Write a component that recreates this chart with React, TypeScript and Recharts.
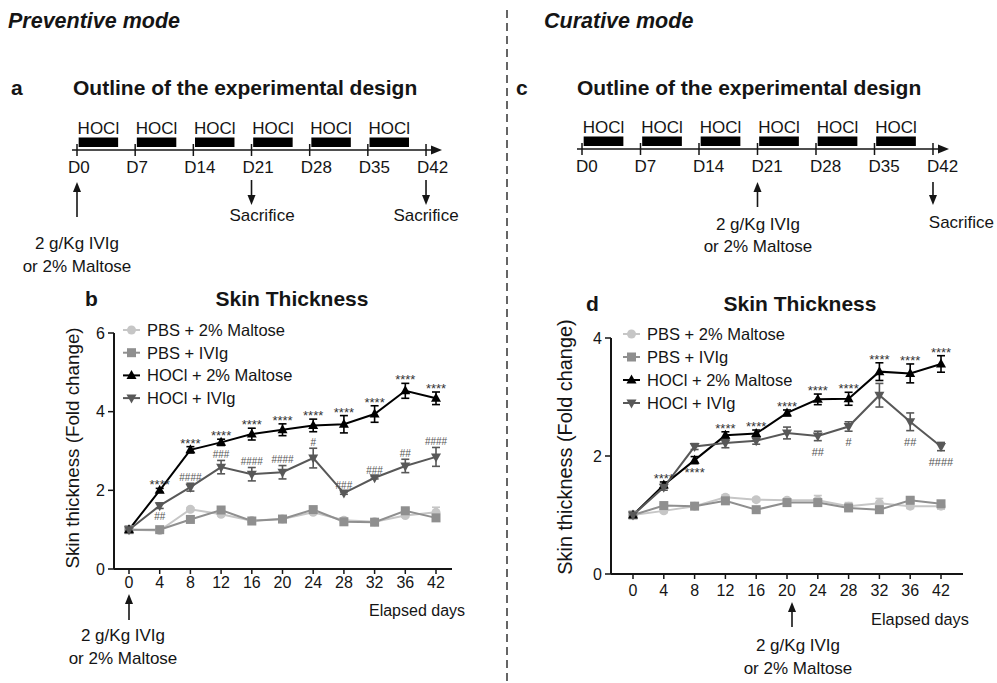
import React from 'react';
import { LineChart, Line, XAxis, YAxis, ErrorBar, LabelList } from 'recharts';

const FONT = '"Liberation Sans", Arial, Helvetica, sans-serif';
const INK = '#151515';

const days = [0, 4, 8, 12, 16, 20, 24, 28, 32, 36, 42];
const seriesNames = ['PBS + 2% Maltose', 'PBS + IVIg', 'HOCl + 2% Maltose', 'HOCl + IVIg'];
const seriesKeys = ['pbsM', 'pbsI', 'hoclM', 'hoclI'];
const seriesColors = ['#c6c6c6', '#8f8f8f', '#000000', '#585858'];
const seriesShapes = ['circle', 'square', 'up', 'down'];

// b - preventive mode
const prevPbsMaltose = [1.0, 0.98, 1.52, 1.39, 1.23, 1.27, 1.44, 1.24, 1.2, 1.36, 1.44];
const prevPbsMaltoseErr = [0.02, 0.03, 0.04, 0.04, 0.03, 0.03, 0.04, 0.03, 0.03, 0.04, 0.13];
const prevPbsIvig = [1.0, 1.0, 1.26, 1.5, 1.22, 1.27, 1.51, 1.2, 1.19, 1.48, 1.3];
const prevPbsIvigErr = [0.02, 0.02, 0.04, 0.05, 0.03, 0.03, 0.04, 0.03, 0.03, 0.05, 0.06];
const prevHoclMaltose = [1.0, 2.0, 3.03, 3.22, 3.43, 3.54, 3.65, 3.68, 3.94, 4.53, 4.34];
const prevHoclMaltoseErr = [0.03, 0.05, 0.08, 0.08, 0.15, 0.15, 0.16, 0.22, 0.21, 0.19, 0.16];
const prevHoclIvig = [1.0, 1.61, 2.08, 2.59, 2.41, 2.46, 2.82, 1.93, 2.32, 2.62, 2.85];
const prevHoclIvigErr = [0.03, 0.07, 0.1, 0.17, 0.17, 0.17, 0.25, 0.03, 0.03, 0.17, 0.24];
const prevStars = ['', '****', '****', '****', '****', '****', '****', '****', '****', '****', '****'];
const prevHashes = ['', '##', '####', '###', '####', '####', '#', '###', '###', '##', '####'];
const prevStarBelowDays: number[] = [];
const prevHashBelowDays = [4];

// d - curative mode
const curePbsMaltose = [1.0, 1.07, 1.15, 1.3, 1.26, 1.25, 1.25, 1.15, 1.2, 1.15, 1.15];
const curePbsMaltoseErr = [0.02, 0.03, 0.03, 0.04, 0.03, 0.03, 0.08, 0.06, 0.08, 0.04, 0.05];
const curePbsIvig = [1.0, 1.16, 1.15, 1.24, 1.09, 1.21, 1.21, 1.12, 1.09, 1.25, 1.19];
const curePbsIvigErr = [0.02, 0.03, 0.03, 0.04, 0.03, 0.03, 0.04, 0.03, 0.03, 0.04, 0.04];
const cureHoclMaltose = [1.0, 1.51, 1.93, 2.35, 2.38, 2.73, 2.96, 2.97, 3.43, 3.4, 3.56];
const cureHoclMaltoseErr = [0.02, 0.05, 0.06, 0.06, 0.06, 0.05, 0.09, 0.11, 0.15, 0.16, 0.14];
const cureHoclIvig = [1.0, 1.47, 2.16, 2.22, 2.26, 2.39, 2.34, 2.5, 3.03, 2.58, 2.16];
const cureHoclIvigErr = [0.02, 0.05, 0.05, 0.08, 0.06, 0.1, 0.08, 0.08, 0.2, 0.15, 0.07];
const cureStars = ['', '****', '****', '****', '****', '****', '****', '****', '****', '****', '****'];
const cureHashes = ['', '', '', '', '', '', '##', '#', '', '##', '####'];
const cureStarBelowDays = [8];
const cureHashBelowDays = days;

const prevYTicks = [0, 2, 4, 6];
const cureYTicks = [0, 2, 4];

// timeline diagrams
const timelineDays = [0, 7, 14, 21, 28, 35, 42];
const hoclWeeks = [0, 7, 14, 21, 28, 35];

function buildRows(
  pbsM: number[], pbsMErr: number[], pbsI: number[], pbsIErr: number[],
  hoclM: number[], hoclMErr: number[], hoclI: number[], hoclIErr: number[],
  stars: string[], hashes: string[], starBelow: number[], hashBelow: number[]
) {
  return days.map((d, i) => ({
    day: d,
    pbsM: pbsM[i], pbsMErr: pbsMErr[i],
    pbsI: pbsI[i], pbsIErr: pbsIErr[i],
    hoclM: hoclM[i], hoclMErr: hoclMErr[i],
    hoclI: hoclI[i], hoclIErr: hoclIErr[i],
    hoclMHi: hoclM[i] + hoclMErr[i],
    hoclMLo: hoclM[i] - hoclMErr[i],
    hoclIHi: hoclI[i] + hoclIErr[i],
    hoclILo: hoclI[i] - hoclIErr[i],
    starUp: starBelow.includes(d) ? '' : stars[i],
    starDown: starBelow.includes(d) ? stars[i] : '',
    hashUp: hashBelow.includes(d) ? '' : hashes[i],
    hashDown: hashBelow.includes(d) ? hashes[i] : '',
  }));
}

function Marker({ shape, cx, cy, color }: { shape: string; cx?: number; cy?: number; color: string }) {
  if (cx == null || cy == null) return <g />;
  if (shape === 'circle') return <circle cx={cx} cy={cy} r={4.5} fill={color} />;
  if (shape === 'square') return <rect x={cx - 4.5} y={cy - 4.5} width={9} height={9} fill={color} />;
  if (shape === 'up') return <path d={`M${cx},${cy - 5.5}L${cx + 5},${cy + 3.5}L${cx - 5},${cy + 3.5}Z`} fill={color} />;
  return <path d={`M${cx},${cy + 5.5}L${cx + 5},${cy - 3.5}L${cx - 5},${cy - 3.5}Z`} fill={color} />;
}

const makeDot = (shape: string, color: string) => (p: any) => (
  <Marker key={`dot-${shape}-${p.index}`} shape={shape} cx={p.cx} cy={p.cy} color={color} />
);

const makeTag = (dy: number, size: number, color: string) => (p: any) => {
  if (!p.value) return null;
  const x = p.viewBox && p.viewBox.x != null ? p.viewBox.x : p.x;
  const y = p.viewBox && p.viewBox.y != null ? p.viewBox.y : p.y;
  return (
    <text key={`tag-${p.index}`} x={x} y={y + dy} textAnchor="middle" fontSize={size} fontFamily={FONT} fill={color}>
      {p.value}
    </text>
  );
};

type PanelProps = {
  rows: any[]; left: number; top: number; width: number; height: number;
  mTop: number; mRight: number; yWidth: number; xHeight: number;
  padL: number; padR: number; yMax: number; yTicks: number[]; tickGap: number;
  hashSize: number; starUpDy: number; starDownDy: number; hashUpDy: number; hashDownDy: number;
};

function Panel(p: PanelProps) {
  const axisStyle = { stroke: INK, strokeWidth: 2 };
  const tickStyle = { fill: INK, fontSize: 16, fontFamily: FONT };
  return (
    <div style={{ position: 'absolute', left: p.left, top: p.top }}>
      <LineChart width={p.width} height={p.height} data={p.rows} margin={{ top: p.mTop, right: p.mRight, bottom: 0, left: 0 }}>
        <XAxis
          dataKey="day"
          type="category"
          interval={0}
          padding={{ left: p.padL, right: p.padR }}
          height={p.xHeight}
          axisLine={axisStyle}
          tickLine={{ stroke: INK, strokeWidth: 1.5 }}
          tickSize={5}
          tickMargin={p.tickGap}
          tick={tickStyle}
        />
        <YAxis
          type="number"
          domain={[0, p.yMax]}
          ticks={p.yTicks}
          width={p.yWidth}
          axisLine={axisStyle}
          tickLine={{ stroke: INK, strokeWidth: 1.5 }}
          tickSize={6}
          tickMargin={3}
          tick={tickStyle}
        />
        {seriesKeys.map((k, i) => (
          <Line
            key={k}
            dataKey={k}
            stroke={seriesColors[i]}
            strokeWidth={2}
            dot={makeDot(seriesShapes[i], seriesColors[i])}
            activeDot={false}
            isAnimationActive={false}
          >
            <ErrorBar dataKey={`${k}Err`} direction="y" width={4} stroke={seriesColors[i]} strokeWidth={1.6} />
          </Line>
        ))}
        <Line dataKey="hoclMHi" stroke="none" strokeWidth={0} dot={false} activeDot={false} isAnimationActive={false}>
          <LabelList dataKey="starUp" content={makeTag(p.starUpDy, 13, '#333')} />
        </Line>
        <Line dataKey="hoclMLo" stroke="none" strokeWidth={0} dot={false} activeDot={false} isAnimationActive={false}>
          <LabelList dataKey="starDown" content={makeTag(p.starDownDy, 13, '#333')} />
        </Line>
        <Line dataKey="hoclIHi" stroke="none" strokeWidth={0} dot={false} activeDot={false} isAnimationActive={false}>
          <LabelList dataKey="hashUp" content={makeTag(p.hashUpDy, p.hashSize, '#555')} />
        </Line>
        <Line dataKey="hoclILo" stroke="none" strokeWidth={0} dot={false} activeDot={false} isAnimationActive={false}>
          <LabelList dataKey="hashDown" content={makeTag(p.hashDownDy, p.hashSize, '#555')} />
        </Line>
      </LineChart>
    </div>
  );
}

function Arrow({ x, y1, y2 }: { x: number; y1: number; y2: number }) {
  const dir = Math.sign(y2 - y1);
  const head = 10;
  return (
    <g>
      <line x1={x} y1={y1} x2={x} y2={y2 - dir * head} stroke={INK} strokeWidth={1.6} />
      <path d={`M${x},${y2}L${x - 4},${y2 - dir * head}L${x + 4},${y2 - dir * head}Z`} fill={INK} />
    </g>
  );
}

function Timeline({ x0, perDay, y, shift }: { x0: number; perDay: number; y: number; shift: number }) {
  const X = (d: number) => x0 + d * perDay;
  const end = X(42) + 16;
  return (
    <g>
      <line x1={X(0) - 5} y1={y} x2={end - 8} y2={y} stroke={INK} strokeWidth={1.6} />
      <path d={`M${end},${y}L${end - 11},${y - 4.5}L${end - 11},${y + 4.5}Z`} fill={INK} />
      {timelineDays.map((d) => (
        <g key={d}>
          <line x1={X(d)} y1={y - 6} x2={X(d)} y2={y + 6} stroke={INK} strokeWidth={1.5} />
          <text x={X(d) + shift} y={y + 23} fontSize={17} fill={INK}>{`D${d}`}</text>
        </g>
      ))}
      {hoclWeeks.map((d) => (
        <g key={`h${d}`}>
          <rect x={X(d + 0.2)} y={y - 12.5} width={X(d + 4.95) - X(d + 0.2)} height={9.5} fill="#000" />
          <text x={(X(d + 0.2) + X(d + 4.95)) / 2} y={y - 16.5} fontSize={17} fill={INK} textAnchor="middle">HOCl</text>
        </g>
      ))}
    </g>
  );
}

function LegendBox({ x, y0, step }: { x: number; y0: number; step: number }) {
  return (
    <g>
      {seriesNames.map((name, i) => {
        const y = y0 + i * step;
        return (
          <g key={name}>
            <line x1={x} y1={y} x2={x + 17} y2={y} stroke={seriesColors[i]} strokeWidth={2} />
            <Marker shape={seriesShapes[i]} cx={x + 8.5} cy={y} color={seriesColors[i]} />
            <text x={x + 24} y={y + 6} fontSize={16.5} fill={INK}>{name}</text>
          </g>
        );
      })}
    </g>
  );
}

export default function App() {
  const prevRows = buildRows(
    prevPbsMaltose, prevPbsMaltoseErr, prevPbsIvig, prevPbsIvigErr,
    prevHoclMaltose, prevHoclMaltoseErr, prevHoclIvig, prevHoclIvigErr,
    prevStars, prevHashes, prevStarBelowDays, prevHashBelowDays
  );
  const cureRows = buildRows(
    curePbsMaltose, curePbsMaltoseErr, curePbsIvig, curePbsIvigErr,
    cureHoclMaltose, cureHoclMaltoseErr, cureHoclIvig, cureHoclIvigErr,
    cureStars, cureHashes, cureStarBelowDays, cureHashBelowDays
  );

  return (
    <div style={{ position: 'absolute', left: 0, top: 0, width: 997, height: 683, overflow: 'hidden', background: '#fff', fontFamily: FONT }}>
      <Panel
        rows={prevRows} left={0} top={300} width={500} height={300}
        mTop={33} mRight={48} yWidth={114} xHeight={31} padL={15} padR={16}
        yMax={6} yTicks={prevYTicks} tickGap={3}
        hashSize={10} starUpDy={1} starDownDy={13} hashUpDy={-2.5} hashDownDy={11.5}
      />
      <Panel
        rows={cureRows} left={505} top={300} width={492} height={310}
        mTop={38} mRight={34} yWidth={106} xHeight={36} padL={22} padR={22}
        yMax={4} yTicks={cureYTicks} tickGap={6}
        hashSize={11} starUpDy={1} starDownDy={13} hashUpDy={-2.5} hashDownDy={15}
      />
      <svg width={997} height={683} style={{ position: 'absolute', left: 0, top: 0, pointerEvents: 'none' }} fontFamily={FONT}>
        <text x={8} y={28} fontSize={21.5} fontWeight="bold" fontStyle="italic" fill={INK}>Preventive mode</text>
        <text x={544} y={28} fontSize={21.5} fontWeight="bold" fontStyle="italic" fill={INK}>Curative mode</text>
        <line x1={507} y1={10} x2={507} y2={683} stroke="#333" strokeWidth={1.5} strokeDasharray="8 5" />

        {/* a */}
        <text x={11} y={95} fontSize={21} fontWeight="bold" fill={INK}>a</text>
        <text x={73} y={95} fontSize={21} fontWeight="bold" fill={INK}>Outline of the experimental design</text>
        <Timeline x0={77} perDay={8.31} y={150} shift={-9} />
        <Arrow x={77} y1={217} y2={182} />
        <text x={77} y={249} fontSize={17} textAnchor="middle" fill={INK}>2 g/Kg IVIg</text>
        <text x={77} y={272} fontSize={17} textAnchor="middle" fill={INK}>or 2% Maltose</text>
        <Arrow x={77 + 21 * 8.31} y1={180} y2={205} />
        <text x={262} y={221} fontSize={17} textAnchor="middle" fill={INK}>Sacrifice</text>
        <Arrow x={77 + 42 * 8.31} y1={180} y2={205} />
        <text x={426} y={221} fontSize={17} textAnchor="middle" fill={INK}>Sacrifice</text>

        {/* c */}
        <text x={516} y={95} fontSize={21} fontWeight="bold" fill={INK}>c</text>
        <text x={577} y={95} fontSize={21} fontWeight="bold" fill={INK}>Outline of the experimental design</text>
        <Timeline x0={582} perDay={8.357} y={149} shift={-6} />
        <Arrow x={582 + 21 * 8.357} y1={207} y2={182} />
        <text x={758} y={230} fontSize={17} textAnchor="middle" fill={INK}>2 g/Kg IVIg</text>
        <text x={758} y={252} fontSize={17} textAnchor="middle" fill={INK}>or 2% Maltose</text>
        <Arrow x={582 + 42 * 8.357} y1={182} y2={205} />
        <text x={994} y={228} fontSize={17} textAnchor="end" fill={INK}>Sacrifice</text>

        {/* b */}
        <text x={85} y={306} fontSize={21} fontWeight="bold" fill={INK}>b</text>
        <text x={292} y={306} fontSize={21} fontWeight="bold" textAnchor="middle" fill={INK}>Skin Thickness</text>
        <LegendBox x={123} y0={330} step={22.7} />
        <text x={72} y={448} fontSize={18.8} textAnchor="middle" dominantBaseline="central" transform="rotate(-90 72 448)" fill={INK}>
          Skin thickness (Fold change)
        </text>
        <text x={417} y={616} fontSize={16} textAnchor="middle" fill={INK}>Elapsed days</text>
        <Arrow x={129} y1={620} y2={594} />
        <text x={123} y={641} fontSize={17} textAnchor="middle" fill={INK}>2 g/Kg IVIg</text>
        <text x={123} y={664} fontSize={17} textAnchor="middle" fill={INK}>or 2% Maltose</text>

        {/* d */}
        <text x={586} y={311} fontSize={21} fontWeight="bold" fill={INK}>d</text>
        <text x={800} y={311} fontSize={21} fontWeight="bold" textAnchor="middle" fill={INK}>Skin Thickness</text>
        <LegendBox x={623} y0={334} step={23} />
        <text x={565} y={447} fontSize={19.9} textAnchor="middle" dominantBaseline="central" transform="rotate(-90 565 447)" fill={INK}>
          Skin thickness (Fold change)
        </text>
        <text x={920} y={625} fontSize={16.3} textAnchor="middle" fill={INK}>Elapsed days</text>
        <Arrow x={792} y1={627} y2={602} />
        <text x={798} y={651} fontSize={17} textAnchor="middle" fill={INK}>2 g/Kg IVIg</text>
        <text x={798} y={674} fontSize={17} textAnchor="middle" fill={INK}>or 2% Maltose</text>
      </svg>
    </div>
  );
}
